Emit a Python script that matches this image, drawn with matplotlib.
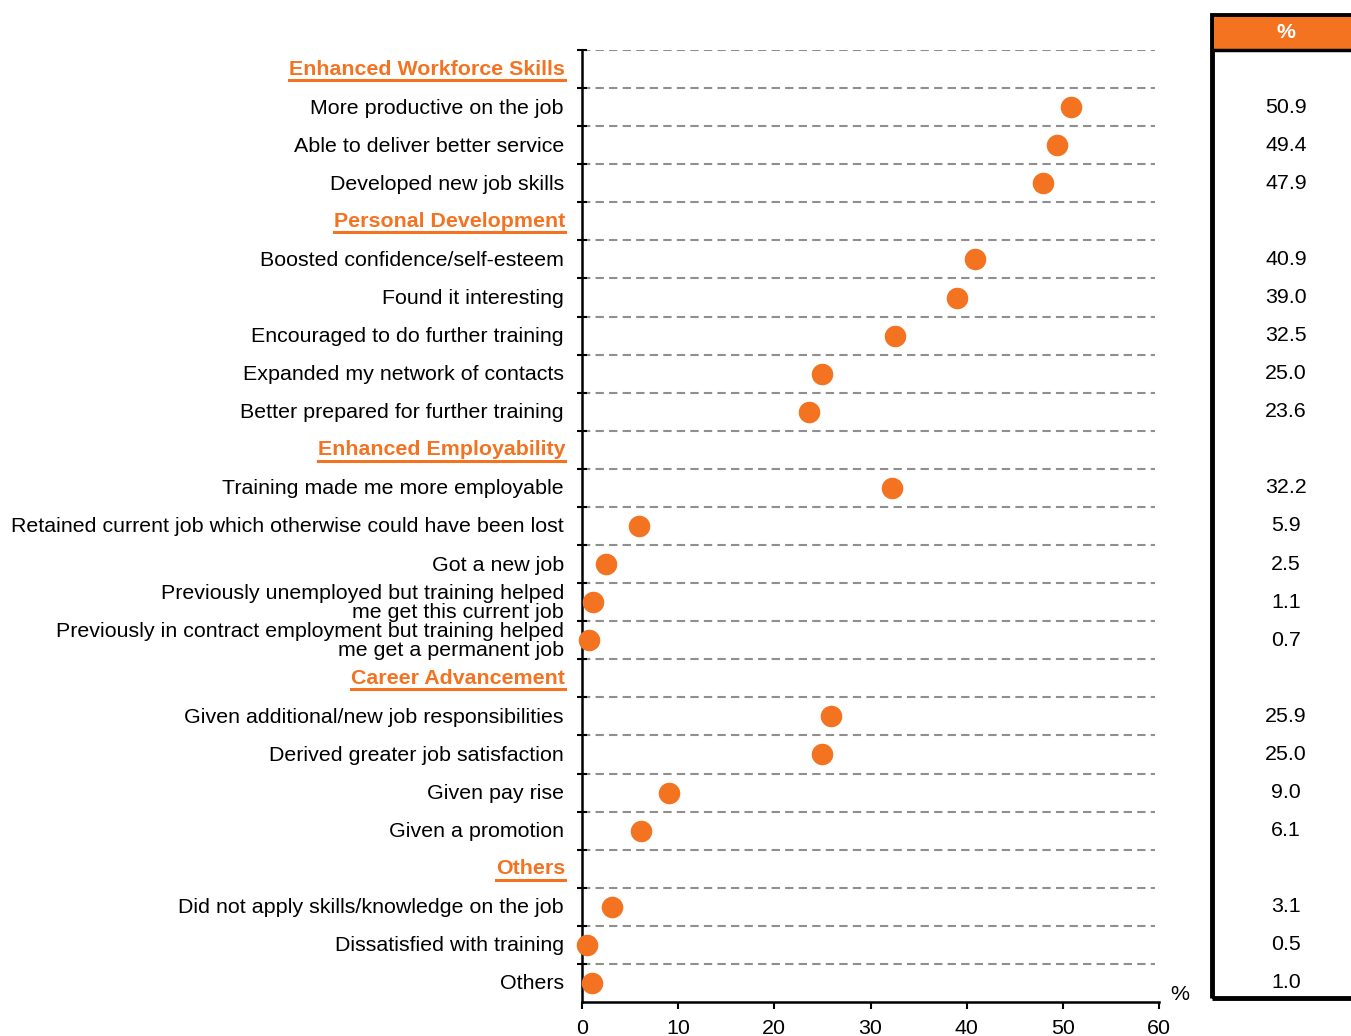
import matplotlib
matplotlib.use("Agg")
import matplotlib.pyplot as plt
from matplotlib.patches import Rectangle
from matplotlib.lines import Line2D

plt.rcParams['font.family'] = ['Liberation Sans', 'DejaVu Sans']

# rows: (label, value or None for section header)
labels = [
    "Enhanced Workforce Skills",
    "More productive on the job",
    "Able to deliver better service",
    "Developed new job skills",
    "Personal Development",
    "Boosted confidence/self-esteem",
    "Found it interesting",
    "Encouraged to do further training",
    "Expanded my network of contacts",
    "Better prepared for further training",
    "Enhanced Employability",
    "Training made me more employable",
    "Retained current job which otherwise could have been lost",
    "Got a new job",
    "Previously unemployed but training helped\nme get this current job",
    "Previously in contract employment but training helped\nme get a permanent job",
    "Career Advancement",
    "Given additional/new job responsibilities",
    "Derived greater job satisfaction",
    "Given pay rise",
    "Given a promotion",
    "Others",
    "Did not apply skills/knowledge on the job",
    "Dissatisfied with training",
    "Others",
]
is_header = [True, False, False, False, True, False, False, False, False, False,
             True, False, False, False, False, False, True, False, False, False,
             False, True, False, False, False]
values = [None, 50.9, 49.4, 47.9, None, 40.9, 39.0, 32.5, 25.0, 23.6,
          None, 32.2, 5.9, 2.5, 1.1, 0.7, None, 25.9, 25.0, 9.0, 6.1,
          None, 3.1, 0.5, 1.0]
xticks = [0, 10, 20, 30, 40, 50, 60]

ORANGE = '#F37321'
FS = 15.4
W, H = 1351, 1036
fig = plt.figure(figsize=(W / 100, H / 100), dpi=100)
ax = fig.add_axes([582 / W, 1 - 1002 / H, (1159 - 582) / W, (1002 - 50) / H])

n = len(labels)
ys = [n - 1 - i for i in range(n)]

# gridlines
for b in range(n):
    yb = b + 0.5
    ax.plot([0, 59.6], [yb, yb], ls=(0, (4, 2.5)), color='#8f8f8f', lw=1.5, zorder=1)

px = [v for v in values if v is not None]
py = [y for v, y in zip(values, ys) if v is not None]
ax.plot(px, py, 'o', ms=14.5, color=ORANGE, mec=ORANGE, zorder=3, clip_on=False)

ax.set_xlim(0, 60)
ax.set_ylim(-0.5, n - 0.5)
ax.set_xticks(xticks)
ax.set_xticklabels([str(t) for t in xticks], fontsize=FS)
ax.set_yticks([b + 0.5 for b in range(n)])
ax.set_yticklabels([])
ax.tick_params(axis='y', direction='inout', length=7, width=1.5, color='black')
ax.tick_params(axis='x', direction='out', length=5, width=1.5, pad=7)
for s in ['top', 'right']:
    ax.spines[s].set_visible(False)
for s in ['left', 'bottom']:
    ax.spines[s].set_linewidth(1.8)
ax.text(1.019, -0.002, '%', transform=ax.transAxes, fontsize=FS, ha='left', va='bottom')

# labels
fig.canvas.draw()
renderer = fig.canvas.get_renderer()
label_x = 564 / W
for lab, hdr, y in zip(labels, is_header, ys):
    yd = ax.transData.transform((0, y))[1] / H
    if hdr:
        t = fig.text(label_x + 1 / W, yd, lab, ha='right', va='center', fontsize=FS,
                     fontweight='bold', color=ORANGE)
        bb = t.get_window_extent(renderer)
        fig.add_artist(Line2D([bb.x0 / W, bb.x1 / W], [(bb.y0 - 1.5) / H, (bb.y0 - 1.5) / H],
                              color=ORANGE, lw=2.2))
    else:
        fig.text(label_x, yd - 1 / H, lab, ha='right', va='center', fontsize=FS,
                 color='black', linespacing=1.0)

# right panel
bx0, by_top, by_bot = 1212, 15, 998
fig.add_artist(Rectangle((bx0 / W, 1 - by_bot / H), (W + 20 - bx0) / W, (by_bot - by_top) / H,
                         transform=fig.transFigure, fill=False, ec='black', lw=3.5, clip_on=False))
fig.add_artist(Rectangle(((bx0 + 2) / W, 1 - 50 / H), (W - bx0) / W, (50 - by_top - 2) / H,
                         transform=fig.transFigure, fc=ORANGE, ec='none'))
fig.add_artist(Line2D([bx0 / W, 1.0], [1 - 50 / H, 1 - 50 / H], color='black', lw=2.5))
fig.text(1286 / W, 1 - 33 / H, '%', ha='center', va='center', fontsize=FS,
         fontweight='bold', color='white')
for v, y in zip(values, ys):
    if v is None:
        continue
    yd = ax.transData.transform((0, y))[1] / H
    fig.text(1286 / W, yd, f"{v:.1f}", ha='center', va='center', fontsize=FS)

fig.savefig('out.png', dpi=100)
